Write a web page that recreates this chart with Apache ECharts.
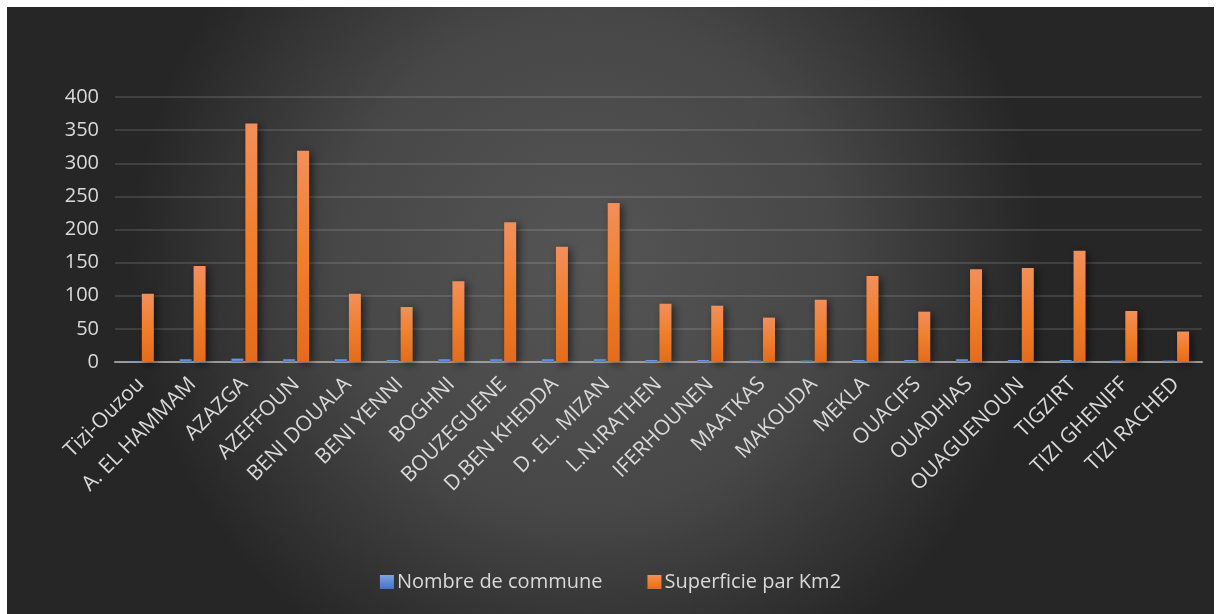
<!DOCTYPE html>
<html>
<head>
<meta charset="utf-8">
<script src="https://cdn.jsdelivr.net/npm/echarts@6/dist/echarts.min.js"></script>
<style>
  html, body { margin: 0; padding: 0; background: #ffffff; }
  #chart { position: absolute; left: 7px; top: 7px; width: 1207px; height: 607px; }
</style>
</head>
<body>
<div id="chart"></div>
<script>
// daïras
const categories = ['Tizi-Ouzou', 'A. EL HAMMAM', 'AZAZGA', 'AZEFFOUN', 'BENI DOUALA', 'BENI YENNI',
  'BOGHNI', 'BOUZEGUENE', 'D.BEN KHEDDA', 'D. EL. MIZAN', 'L.N.IRATHEN', 'IFERHOUNEN', 'MAATKAS',
  'MAKOUDA', 'MEKLA', 'OUACIFS', 'OUADHIAS', 'OUAGUENOUN', 'TIGZIRT', 'TIZI GHENIFF', 'TIZI RACHED']
const communes = [1, 4, 5, 4, 4, 3, 4, 4, 4, 4, 3, 3, 2, 2, 3, 3, 4, 3, 3, 2, 2]
const superficie = [103, 145, 360, 319, 103, 83, 122, 211, 174, 240, 88, 85, 67, 94, 130, 76, 140, 142, 168, 77, 46]
const seriesNames = ['Nombre de commune', 'Superficie par Km2']

const font = '"Open Sans", "Noto Sans", sans-serif'
const chart = echarts.init(document.getElementById('chart'))

chart.setOption({
  animation: false,
  backgroundColor: {
    type: 'radial', x: 0.48, y: 0.42, r: 0.75,
    colorStops: [
      { offset: 0, color: '#555555' },
      { offset: 0.55, color: '#474747' },
      { offset: 1, color: '#262626' }
    ]
  },
  grid: { left: 108, right: 12, top: 90, bottom: 252 },
  legend: {
    bottom: 17,
    left: 'center',
    itemWidth: 14,
    itemHeight: 14,
    itemGap: 45,
    icon: 'rect',
    textStyle: { color: '#d9d9d9', fontSize: 20, fontFamily: font, padding: [0, 0, 0, -2] },
    data: seriesNames
  },
  xAxis: {
    type: 'category',
    data: categories,
    axisLine: { lineStyle: { color: '#9a9a9a', width: 2 } },
    axisTick: { show: false },
    axisLabel: { rotate: 45, interval: 0, color: '#d9d9d9', fontSize: 21, fontFamily: font, margin: 19 }
  },
  yAxis: {
    type: 'value',
    min: 0, max: 400, interval: 50,
    axisLine: { show: false },
    axisTick: { show: false },
    axisLabel: { color: '#d9d9d9', fontSize: 20, fontFamily: font, margin: 16 },
    splitLine: { lineStyle: { color: 'rgba(255,255,255,0.12)', width: 2 } }
  },
  series: [
    {
      name: seriesNames[0],
      type: 'bar',
      data: communes,
      barWidth: 12,
      barGap: '16%',
      itemStyle: {
        color: {
          type: 'linear', x: 0, y: 0, x2: 0, y2: 1,
          colorStops: [{ offset: 0, color: '#7ea3e6' }, { offset: 1, color: '#4472c4' }]
        }
      }
    },
    {
      name: seriesNames[1],
      type: 'bar',
      data: superficie,
      barWidth: 12,
      itemStyle: {
        color: {
          type: 'linear', x: 0, y: 0, x2: 0, y2: 1,
          colorStops: [{ offset: 0, color: '#f28f5c' }, { offset: 0.5, color: '#f07f2c' }, { offset: 1, color: '#e36c1c' }]
        },
        shadowColor: 'rgba(0,0,0,0.55)',
        shadowBlur: 8,
        shadowOffsetX: 3,
        shadowOffsetY: 2
      }
    }
  ]
})

window.addEventListener('resize', () => chart.resize())
</script>
</body>
</html>
